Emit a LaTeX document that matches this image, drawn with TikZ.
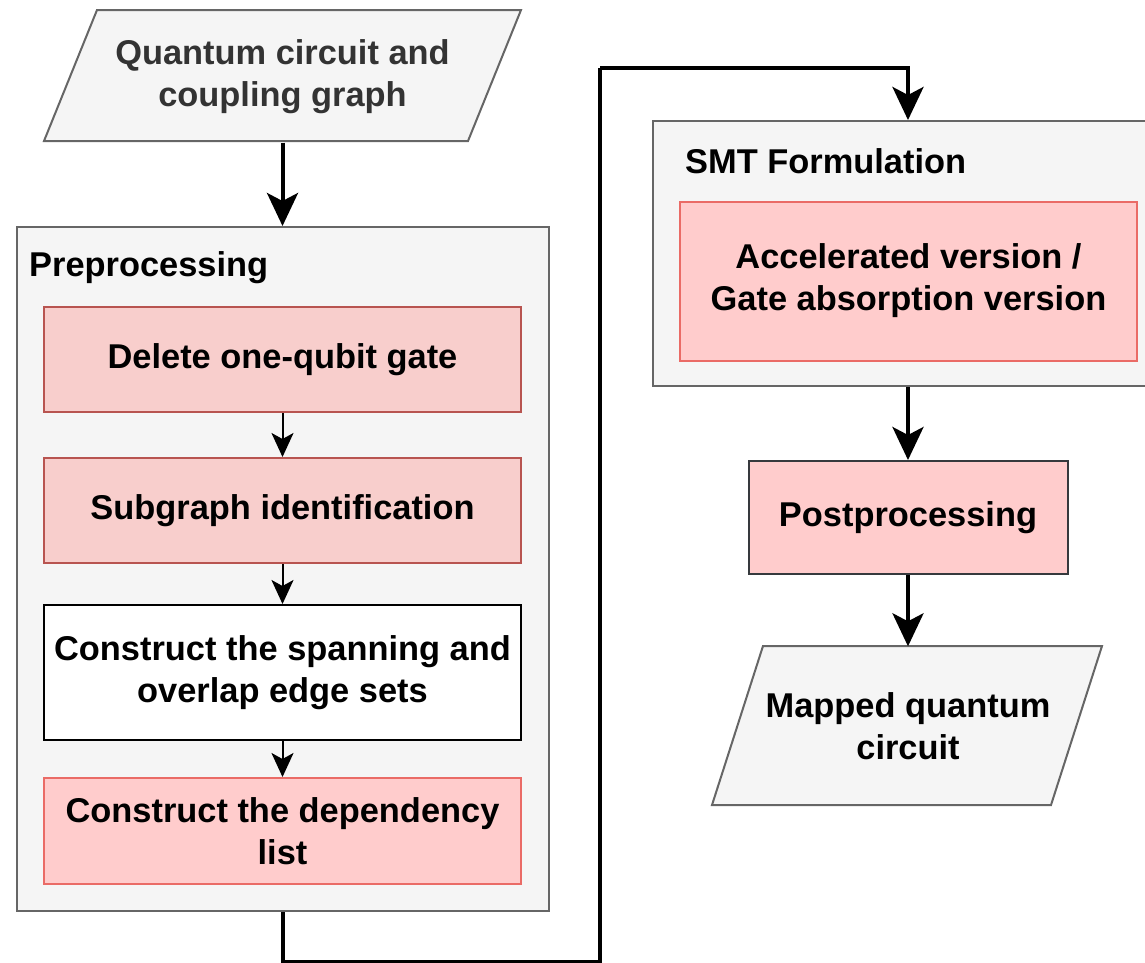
\documentclass[tikz,border=0pt]{standalone}
\usepackage{fontspec}
\setmainfont{Liberation Sans}
\usetikzlibrary{arrows.meta}
\definecolor{grayfill}{HTML}{F5F5F5}
\definecolor{graystroke}{HTML}{666666}
\definecolor{pinkA}{HTML}{F8CECC}
\definecolor{pinkAstroke}{HTML}{B85450}
\definecolor{pinkB}{HTML}{FFCCCC}
\definecolor{pinkBstroke}{HTML}{EA6B66}
\definecolor{darkstroke}{HTML}{36393D}
\definecolor{darktext}{HTML}{333333}
\begin{document}
\begin{tikzpicture}[x=1pt,y=-1pt,
  txt/.style={font=\fontsize{34.4}{42}\selectfont\bfseries, align=center, inner sep=0pt},
  container/.style={draw=graystroke, fill=grayfill, line width=2pt, inner sep=0pt},
  boxA/.style={txt, draw=pinkAstroke, fill=pinkA, line width=2pt, minimum width=477, minimum height=105},
  boxB/.style={txt, draw=pinkBstroke, fill=pinkB, line width=2pt},
  para/.style={draw=graystroke, fill=grayfill, line width=2pt},
  thickarrow/.style={line width=4pt, -{Stealth[length=33pt, width=31pt, inset=8pt]}},
  thinarrow/.style={line width=2pt, -{Stealth[length=24pt, width=22pt, inset=6pt]}},
  thickline/.style={line width=4pt}
]
\useasboundingbox (0,0) rectangle (1145,962);
\clip (0,0) rectangle (1145,962);

% input parallelogram
\draw[para] (97,10) -- (521,10) -- (468,141) -- (44,141) -- cycle;
\node[txt, text=darktext, minimum width=424, minimum height=131] (in) at (282.5,77) {Quantum circuit and\\coupling graph};

% preprocessing container
\node[container, minimum width=532, minimum height=684] (pre) at (282.5,569) {};
\node[txt, anchor=west] (prelabel) at (29,268) {Preprocessing};

\node[boxA] (b1) at (282.5,359.5) {Delete one-qubit gate};
\node[boxA] (b2) at (282.5,510.5) {Subgraph identification};
\node[txt, draw=black, fill=white, line width=2pt, minimum width=477, minimum height=135] (b3) at (282.5,672.5) {Construct the spanning and\\overlap edge sets};
\node[boxB, minimum width=477, minimum height=106] (b4) at (282.5,831) {Construct the dependency\\list};

% SMT container
\node[container, minimum width=510, minimum height=265] (smt) at (908,253.5) {};
\node[txt, anchor=west] (smtlabel) at (685,161) {SMT Formulation};
\node[boxB, minimum width=457, minimum height=159] (acc) at (908.5,281) {Accelerated version /\\Gate absorption version};

\node[txt, draw=darkstroke, fill=pinkB, line width=2pt, minimum width=319, minimum height=113] (post) at (908,517.5) {Postprocessing};

% output parallelogram
\draw[para] (763,646) -- (1102,646) -- (1051,805) -- (712,805) -- cycle;
\node[txt, minimum width=339, minimum height=159] (out) at (908,726) {Mapped quantum\\circuit};

% connectors
\draw[thickarrow] (in.south) -- (pre.north);
\draw[thinarrow] (b1) -- (b2);
\draw[thinarrow] (b2) -- (b3);
\draw[thinarrow] (b3) -- (b4);
\coordinate (c1) at (600,962);
\coordinate (c2) at (600,68);
\draw[thickline] (pre.south) |- (c1) -- (c2);
\draw[thickarrow] (c2) -| (smt.north);
\draw[thickarrow] (smt.south) -- (post.north);
\draw[thickarrow] (post.south) -- (out.north);
\end{tikzpicture}
\end{document}
